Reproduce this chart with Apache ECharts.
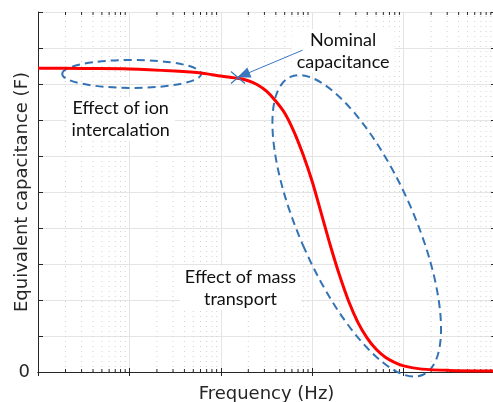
<!DOCTYPE html>
<html><head><meta charset="utf-8">
<script src="https://cdn.jsdelivr.net/npm/echarts@6/dist/echarts.min.js"></script>
<style>html,body{margin:0;padding:0;background:#fff}#c{width:493px;height:402px}</style>
</head><body><div id="c"></div>
<script>
// ---- data ----
const freqHz = [0.01, 0.0316, 0.1, 0.316, 0.631, 1, 1.585, 1.995, 2.512, 3.162, 3.981, 5.012, 6.310, 7.943, 10, 12.59, 15.85, 19.95, 25.12, 31.62, 39.81, 50.12, 63.10, 79.43, 100, 158.5, 316.2, 1000];
const capacitance = [8.44, 8.43, 8.42, 8.36, 8.30, 8.22, 8.15, 8.09, 7.98, 7.80, 7.53, 7.19, 6.68, 6.04, 5.29, 4.40, 3.50, 2.68, 1.96, 1.38, 0.95, 0.63, 0.41, 0.27, 0.17, 0.08, 0.045, 0.03];
const yTickValues = [0,1,2,3,4,5,6,7,8,9,10];
const yTickLabels = ['0','','','','','','','','','',''];
const xDecades = [0.01, 0.1, 1, 10, 100, 1000];
const minorMultipliers = [2,3,4,5,6,7,8,9];
const nominalPoint = [1.54, 8.18];
const arrowFrom = [7.85, 8.94];
const arrowTo = [1.77, 8.25];
const ionEllipseCenter = [0.106, 8.28];
const massEllipseCenter = [30.7, 4.06];
const ionTextAt = [0.0804, 7.03];
const nominalTextAt = [21.8, 8.92];
const massTextAt = [1.64, 2.33];
const texts = {
  ion: 'Effect of ion\nintercalation',
  nominal: 'Nominal\ncapacitance',
  mass: 'Effect of mass\ntransport',
  xName: 'Frequency (Hz)',
  yName: 'Equivalent capacitance (F)'
};

// minor tick positions of the log axis (2..9 in each decade)
const minorFreqs = [];
for (let i = 0; i < xDecades.length - 1; i++) for (const m of minorMultipliers) minorFreqs.push(m * xDecades[i]);

const AX = '#262626';
const BLUE = '#3473b3';
const chart = echarts.init(document.getElementById('c'), null, {renderer: 'canvas'});
const axisFont = {fontFamily: 'DejaVu Sans', fontSize: 18, color: AX};

const option = {
  animation: false,
  grid: {left: 38, right: -2, top: 12, bottom: 30, containLabel: false, outerBoundsMode: 'none'},
  xAxis: [
    {type: 'log', logBase: 10, min: xDecades[0], max: xDecades[xDecades.length-1], position: 'bottom',
     axisLine: {show: true, lineStyle: {color: AX, width: 1}},
     axisTick: {show: true, inside: true, length: 4, lineStyle: {color: AX}},
     axisLabel: {show: false},
     splitLine: {show: true, lineStyle: {color: '#e4e4e4', width: 1}},
     name: texts.xName, nameLocation: 'middle', nameGap: 13, nameMoveOverlap: false, nameTextStyle: axisFont},
    {type: 'log', logBase: 10, min: xDecades[0], max: xDecades[xDecades.length-1], position: 'top',
     axisLine: {show: true, lineStyle: {color: AX, width: 1}},
     axisTick: {show: true, inside: true, length: 4, lineStyle: {color: AX}},
     axisLabel: {show: false}, splitLine: {show: false}}
  ],
  yAxis: [
    {type: 'value', min: yTickValues[0], max: yTickValues[yTickValues.length-1], interval: 1, position: 'left',
     axisLine: {show: true, lineStyle: {color: AX, width: 1}},
     axisTick: {show: true, inside: true, length: 5, lineStyle: {color: AX}},
     axisLabel: {show: true, margin: 8, fontFamily: 'DejaVu Sans', fontSize: 18, color: AX,
       formatter: v => { const i = yTickValues.indexOf(v); return i >= 0 ? yTickLabels[i] : ''; }},
     splitLine: {show: true, lineStyle: {color: '#e4e4e4', width: 1}},
     name: texts.yName, nameLocation: 'middle', nameGap: 7, nameMoveOverlap: false, nameTextStyle: axisFont},
    {type: 'value', min: yTickValues[0], max: yTickValues[yTickValues.length-1], interval: 1, position: 'right',
     axisLine: {show: true, lineStyle: {color: AX, width: 1}},
     axisTick: {show: true, inside: true, length: 4, lineStyle: {color: AX}},
     axisLabel: {show: false}, splitLine: {show: false}}
  ],
  series: [
    {type: 'custom', xAxisIndex: 0, yAxisIndex: 0, silent: true, z: 1, clip: false,
     data: minorFreqs.map(f => [f]),
     renderItem: (params, api) => {
       const f = api.value(0);
       const b = api.coord([f, yTickValues[0]]);
       const t = api.coord([f, yTickValues[yTickValues.length-1]]);
       return {type: 'group', children: [
         {type: 'line', shape: {x1: b[0], y1: b[1], x2: t[0], y2: t[1]},
          style: {stroke: '#d2d2d2', lineWidth: 1, lineDash: [1, 4]}},
         {type: 'line', shape: {x1: b[0], y1: b[1], x2: b[0], y2: b[1] - 3}, style: {stroke: AX, lineWidth: 1}},
         {type: 'line', shape: {x1: t[0], y1: t[1], x2: t[0], y2: t[1] + 3}, style: {stroke: AX, lineWidth: 1}}
       ]};
     }},
    {type: 'line', name: 'capacitance', xAxisIndex: 0, yAxisIndex: 0, z: 5,
     data: freqHz.map((f, i) => [f, capacitance[i]]),
     smooth: 0.3, showSymbol: false, symbol: 'none',
     lineStyle: {color: '#ff0000', width: 3}},
    {type: 'custom', xAxisIndex: 0, yAxisIndex: 0, z: 6, silent: true,
     data: [nominalPoint],
     renderItem: (params, api) => {
       const p = api.coord([api.value(0), api.value(1)]);
       const h = 7, v = 6;
       const st = {stroke: '#3a78b8', lineWidth: 1.2};
       return {type: 'group', children: [
         {type: 'line', shape: {x1: p[0]-h, y1: p[1]-v, x2: p[0]+h, y2: p[1]+v}, style: st},
         {type: 'line', shape: {x1: p[0]-h, y1: p[1]+v, x2: p[0]+h, y2: p[1]-v}, style: st}
       ]};
     },
     markLine: {silent: true, symbol: ['none', 'triangle'], symbolSize: [11, 13],
       lineStyle: {color: '#3a78c0', width: 1, type: 'solid'}, label: {show: false},
       emphasis: {disabled: true},
       data: [[{coord: arrowFrom}, {coord: arrowTo}]]}}
  ]
};
chart.setOption(option);

const px = d => chart.convertToPixel({xAxisIndex: 0, yAxisIndex: 0}, d);
const e1 = px(ionEllipseCenter), e2 = px(massEllipseCenter);
const t1 = px(ionTextAt), t2 = px(nominalTextAt), t3 = px(massTextAt);
const ellStyle = {fill: 'none', stroke: BLUE, lineWidth: 2, lineDash: [8, 5]};
const txtStyle = (txt) => ({text: txt, fontFamily: 'Lato', fontSize: 18, fill: '#111111',
  align: 'center', verticalAlign: 'middle', lineHeight: 22, backgroundColor: '#ffffff', padding: [0, 5]});
chart.setOption({graphic: [
  {type: 'ellipse', x: e1[0], y: e1[1], shape: {cx: 0, cy: 0, rx: 69.5, ry: 14}, style: ellStyle, z: 3, silent: true},
  {type: 'ellipse', x: e2[0], y: e2[1], rotation: 24 * Math.PI / 180, shape: {cx: 0, cy: 0, rx: 57, ry: 163}, style: ellStyle, z: 3, silent: true},
  {type: 'text', x: t1[0], y: t1[1], style: txtStyle(texts.ion), z: 4, silent: true},
  {type: 'text', x: t2[0], y: t2[1], style: txtStyle(texts.nominal), z: 4, silent: true},
  {type: 'text', x: t3[0], y: t3[1], style: txtStyle(texts.mass), z: 4, silent: true}
]});
</script>
</body></html>
